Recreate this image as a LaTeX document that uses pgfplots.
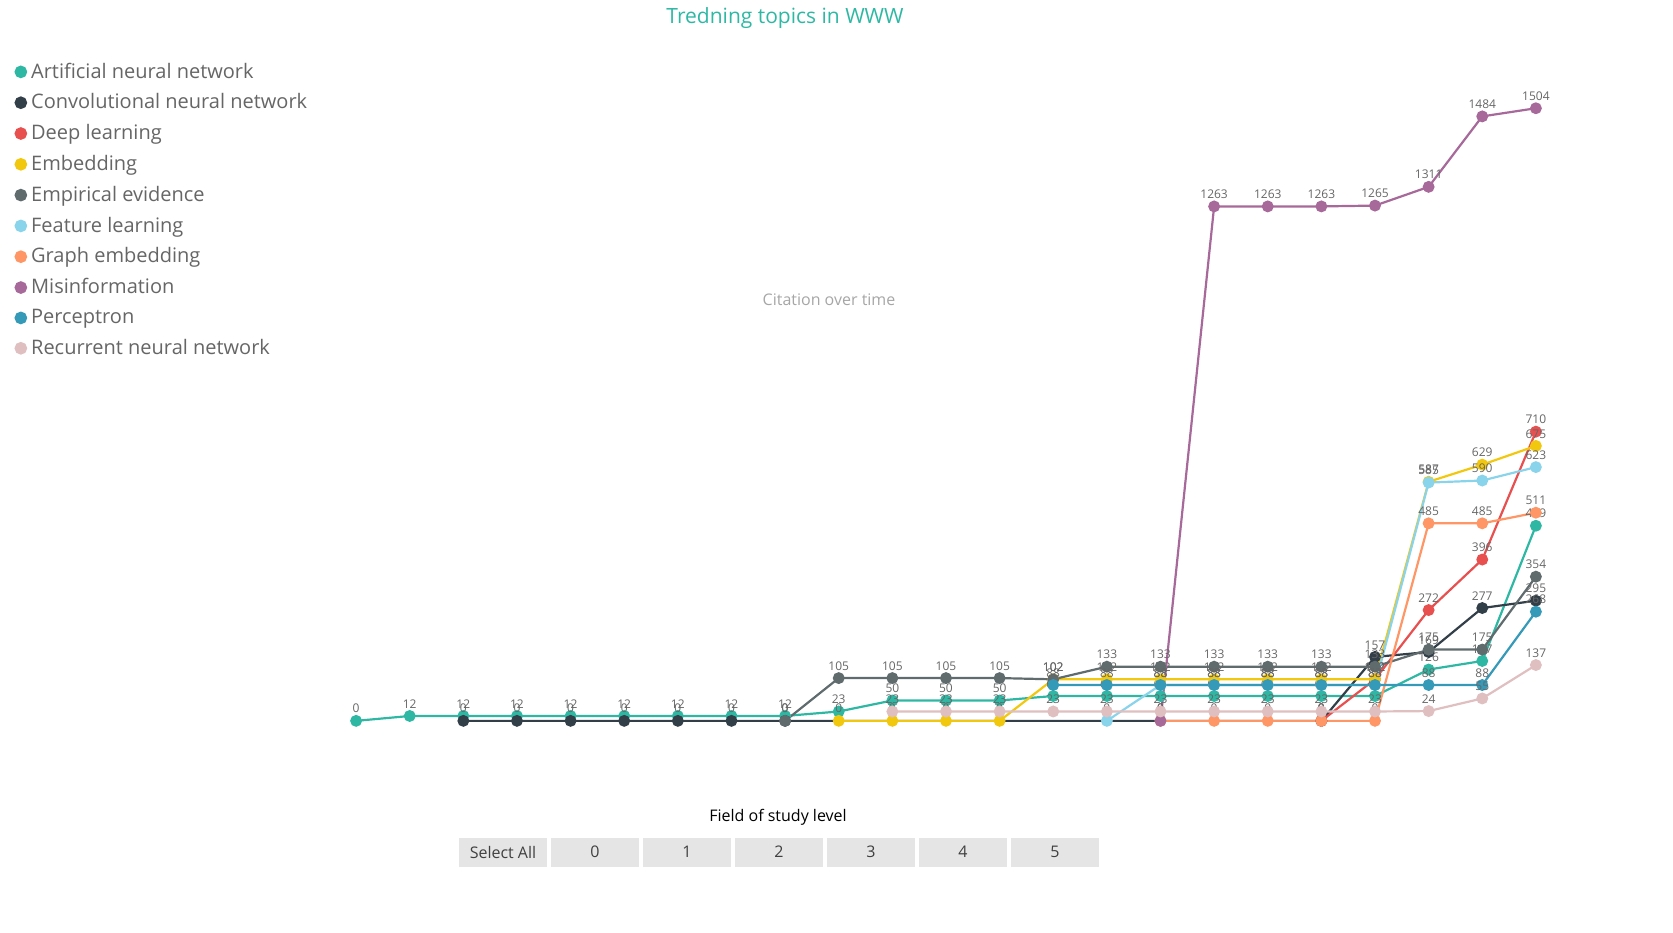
\documentclass[border=0pt]{standalone}
\usepackage{fontspec}
\setmainfont{Open Sans}
\usepackage{pgfplots}
\pgfplotsset{compat=1.18}
\definecolor{c1}{HTML}{2EB8A4}
\definecolor{c2}{HTML}{333F48}
\definecolor{c3}{HTML}{E8504F}
\definecolor{c4}{HTML}{F2C80F}
\definecolor{c5}{HTML}{5F6B6D}
\definecolor{c6}{HTML}{8AD4EB}
\definecolor{c7}{HTML}{FE9666}
\definecolor{c8}{HTML}{A66999}
\definecolor{c9}{HTML}{3599B8}
\definecolor{c10}{HTML}{DFBFBF}
\definecolor{lab}{HTML}{666666}
\begin{document}
\begin{tikzpicture}
\path (0pt,0pt) rectangle (836.5pt,466pt);
\begin{axis}[at={(170pt,101.5pt)},anchor=south west,scale only axis,width=610pt,height=334pt,
 xmin=1994.7,xmax=2017.45,ymin=-20,ymax=1620,
 axis lines=none, ymajorgrids, grid style={gray!15},
 xtick={1995,...,2017}, ytick={0,200,...,1600},
 xticklabel style={font=\fontsize{6.5}{7}\selectfont,text=lab},
 yticklabel style={font=\fontsize{6.5}{7}\selectfont,text=lab},
 /pgf/number format/1000 sep={}, /pgf/number format/assume math mode=true,
 tick style={draw=none},
 every axis plot/.append style={line width=1.1pt, mark=*, mark size=2.4pt},
 nodes near coords, every node near coord/.append style={font=\fontsize{6}{7}\selectfont,text=lab},
 legend style={at={(-0.272,1.01)},anchor=north west,draw=none,font=\fontsize{10}{12}\selectfont,text=lab,row sep=2.3pt,cells={anchor=west}},
 legend image code/.code={\fill (0.12cm,0) circle (2.6pt);},
 clip=false]
\addplot[c1] coordinates {(1995,0)(1996,12)(1997,12)(1998,12)(1999,12)(2000,12)(2001,12)(2002,12)(2003,12)(2004,23)(2005,50)(2006,50)(2007,50)(2008,61)(2009,61)(2010,61)(2011,61)(2012,61)(2013,61)(2014,61)(2015,126)(2016,147)(2017,479)};
\addplot[c2] coordinates {(1997,0)(1998,0)(1999,0)(2000,0)(2001,0)(2002,0)(2003,0)(2013,0)(2014,157)(2015,169)(2016,277)(2017,295)};
\addplot[c3] coordinates {(2013,0)(2014,102)(2015,272)(2016,396)(2017,710)};
\addplot[c4] coordinates {(2004,0)(2005,0)(2006,0)(2007,0)(2008,102)(2009,102)(2010,102)(2011,102)(2012,102)(2013,102)(2014,102)(2015,587)(2016,629)(2017,675)};
\addplot[c5] coordinates {(2003,0)(2004,105)(2005,105)(2006,105)(2007,105)(2008,102)(2009,133)(2010,133)(2011,133)(2012,133)(2013,133)(2014,133)(2015,175)(2016,175)(2017,354)};
\addplot[c6] coordinates {(2009,0)(2010,88)(2011,88)(2012,88)(2013,88)(2014,88)(2015,585)(2016,590)(2017,623)};
\addplot[c7] coordinates {(2010,0)(2011,0)(2012,0)(2013,0)(2014,0)(2015,485)(2016,485)(2017,511)};
\addplot[c8] coordinates {(2010,0)(2011,1263)(2012,1263)(2013,1263)(2014,1265)(2015,1311)(2016,1484)(2017,1504)};
\addplot[c9] coordinates {(2008,88)(2009,88)(2010,88)(2011,88)(2012,88)(2013,88)(2014,88)(2015,88)(2016,88)(2017,268)};
\addplot[c10] coordinates {(2005,23)(2006,23)(2007,23)(2008,23)(2009,23)(2010,23)(2011,23)(2012,23)(2013,23)(2014,23)(2015,24)(2016,55)(2017,137)};
\legend{Artificial neural network,Convolutional neural network,Deep learning,Embedding,Empirical evidence,Feature learning,Graph embedding,Misinformation,Perceptron,Recurrent neural network}
\end{axis}
\node[text=c1,font=\fontsize{10.5}{12}\selectfont] at (392.5pt,457pt) {Tredning topics in WWW};
\node[text=gray!70,font=\fontsize{8}{10}\selectfont] at (414.5pt,316pt) {Citation over time};
\node[font=\fontsize{8}{10}\selectfont] at (389pt,57.5pt) {Field of study level};
\foreach \l [count=\i from 0] in {Select All,0,1,2,3,4,5}{
  \node[fill=gray!20,minimum width=44pt,minimum height=14.5pt,inner sep=0pt,text=black!75,font=\fontsize{8}{10}\selectfont] at ({251.5pt+\i*46pt},40pt) {\l};}
\end{tikzpicture}
\end{document}
